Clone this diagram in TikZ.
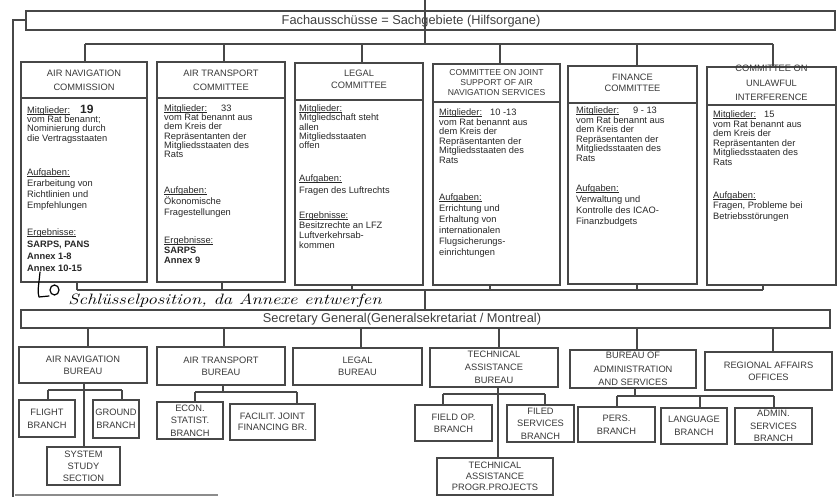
\documentclass[tikz,border=0pt]{standalone}
\usepackage{fontspec}
\usepackage{graphicx}
\newfontfamily\arial{Liberation Sans}
% underline drawn just below the baseline, as a typewriter-style rule
\newcommand\lbl[1]{\setbox0\hbox{#1}\rlap{\rule[-1.5pt]{\wd0}{0.55pt}}\box0}
\begin{document}
\begin{tikzpicture}[x=1pt,y=-1pt,
  ln/.style={draw=black!72,line width=1.1pt},
  frame/.style={draw=black!72,line width=1.1pt,inner sep=1pt,outer sep=0pt,anchor=north west},
  caps/.style={font=\arial\fontsize{9.3}{#1}\selectfont,align=center,text=black!78},
  caps/.default=12,
  smallcaps/.style={font=\arial\fontsize{8.6}{#1}\selectfont,align=center,text=black!78},
  body/.style={font=\arial\fontsize{9.3}{#1}\selectfont,align=left,anchor=north west,inner sep=0pt,text=black!85},
  title/.style={font=\arial\fontsize{12.8}{14}\selectfont,text=black!75},
  hand/.style={font=\rmfamily\itshape\fontsize{15}{15}\selectfont,text=black,inner sep=0pt},
  pen/.style={draw=black,line width=1.2pt,line cap=round,line join=round},
]
\useasboundingbox (0,0) rectangle (838,497);

% ---------- top level: committees ----------
\node[frame,minimum width=809pt,minimum height=19pt] (fach) at (26,11) {};
\node[title] (fachtxt) at (411,21) {Fachausschüsse = Sachgebiete (Hilfsorgane)};

\coordinate (topin) at (425,0);
\coordinate (lcorner) at (13,20);
\coordinate (lb) at (13,497);
\draw[ln] (fach.west |- lcorner) -- (lcorner) -- (lb);

\coordinate (tb1) at (85,44);
\coordinate (tb2) at (224,44);
\coordinate (tb3) at (362,44);
\coordinate (tb4) at (500,44);
\coordinate (tb5) at (637,44);
\coordinate (tb6) at (773,44);
\draw[ln] (topin) -- (topin |- tb1);
\draw[ln] (tb1) -- (tb6);

\node[frame,minimum width=126pt,minimum height=220pt] (c1) at (21,62) {};
\node[frame,minimum width=128pt,minimum height=220pt] (c2) at (157,62) {};
\node[frame,minimum width=128pt,minimum height=222pt] (c3) at (295,63) {};
\node[frame,minimum width=127pt,minimum height=221pt] (c4) at (433,64) {};
\node[frame,minimum width=129pt,minimum height=218pt] (c5) at (568,66) {};
\node[frame,minimum width=129pt,minimum height=218pt] (c6) at (707,67) {};

\foreach \i in {1,...,6} {\draw[ln] (tb\i) -- (tb\i |- c\i.north);}

% header dividers
\draw[ln] (c1.west |- 0,98) -- (c1.east |- 0,98);
\draw[ln] (c2.west |- 0,98) -- (c2.east |- 0,98);
\draw[ln] (c3.west |- 0,100) -- (c3.east |- 0,100);
\draw[ln] (c4.west |- 0,102) -- (c4.east |- 0,102);
\draw[ln] (c5.west |- 0,103) -- (c5.east |- 0,103);
\draw[ln] (c6.west |- 0,105) -- (c6.east |- 0,105);

% headers
\node[caps=14] (h1) at (84,80) {AIR NAVIGATION\\COMMISSION};
\node[caps=14] (h2) at (221,80) {AIR TRANSPORT\\COMMITTEE};
\node[caps=12] (h3) at (359,79) {LEGAL\\COMMITTEE};
\node[smallcaps=10] (h4) at (496.5,83) {COMMITTEE ON JOINT\\SUPPORT OF AIR\\NAVIGATION SERVICES};
\node[caps=11] (h5) at (632.5,82.5) {FINANCE\\COMMITTEE};
\node[caps=14.5] (h6) at (771.5,83) {COMMITTEE ON\\UNLAWFUL\\INTERFERENCE};

% bodies
\node[body=9.3] (c1a) at (27,104.7) {\lbl{Mitglieder:}\hspace{10pt}{\bfseries\fontsize{12}{9.3}\selectfont 19}\\vom Rat benannt;\\Nominierung durch\\die Vertragsstaaten};
\node[body=11] (c1b) at (27,168.5) {\lbl{Aufgaben:}\\Erarbeitung von\\Richtlinien und\\Empfehlungen};
\node[body=12] (c1c) at (27,228.5) {\lbl{Ergebnisse:}\\\textbf{SARPS, PANS}\\\textbf{Annex 1-8}\\\textbf{Annex 10-15}};

\node[body=9.2] (c2a) at (164,104.5) {\lbl{Mitglieder:}\hspace{14pt}33\\vom Rat benannt aus\\dem Kreis der\\Repräsentanten der\\Mitgliedsstaaten des\\Rats};
\node[body=11] (c2b) at (164,186.5) {\lbl{Aufgaben:}\\Ökonomische\\Fragestellungen};
\node[body=10] (c2c) at (164,236.5) {\lbl{Ergebnisse:}\\\textbf{SARPS}\\\textbf{Annex 9}};

\node[body=9.3] (c3a) at (299,104.5) {\lbl{Mitglieder:}\\Mitgliedschaft steht\\allen\\Mitgliedsstaaten\\offen};
\node[body=12] (c3b) at (299,174.5) {\lbl{Aufgaben:}\\Fragen des Luftrechts};
\node[body=10] (c3c) at (299,211.5) {\lbl{Ergebnisse:}\\Besitzrechte an LFZ\\Luftverkehrsab-\\kommen};

\node[body=9.6] (c4a) at (439,108.5) {\lbl{Mitglieder:}\hspace{8pt}10 -13\\vom Rat benannt aus\\dem Kreis der\\Repräsentanten der\\Mitgliedsstaaten des\\Rats};
\node[body=11] (c4b) at (439,193.5) {\lbl{Aufgaben:}\\Errichtung und\\Erhaltung von\\internationalen\\Flugsicherungs-\\einrichtungen};

\node[body=9.6] (c5a) at (576,106.5) {\lbl{Mitglieder:}\hspace{14pt}9 - 13\\vom Rat benannt aus\\dem Kreis der\\Repräsentanten der\\Mitgliedsstaaten des\\Rats};
\node[body=11] (c5b) at (576,184.5) {\lbl{Aufgaben:}\\Verwaltung und\\Kontrolle des ICAO-\\Finanzbudgets};

\node[body=9.6] (c6a) at (713,110.5) {\lbl{Mitglieder:}\hspace{8pt}15\\vom Rat benannt aus\\dem Kreis der\\Repräsentanten der\\Mitgliedsstaaten des\\Rats};
\node[body=10.5] (c6b) at (713,191.5) {\lbl{Aufgaben:}\\Fragen, Probleme bei\\Betriebsstörungen};

% ---------- link to the secretariat ----------
\coordinate (m1) at (77,290);
\coordinate (m2) at (222,290);
\coordinate (m3) at (352,290);
\coordinate (m4) at (490,290);
\coordinate (m5) at (637,290);
\coordinate (m6) at (763,290);
\coordinate (mtop) at (425,290);
\draw[ln] (m1) -- (m6);
\foreach \i in {1,...,6} {\draw[ln] (m\i) -- (m\i |- c\i.south);}

\node[frame,minimum width=809pt,minimum height=18pt] (sec) at (21,310) {};
\node[title] (sectxt) at (402,319) {Secretary General(Generalsekretariat / Montreal)};
\draw[ln] (mtop) -- (mtop |- sec.north);

% handwritten remark
\draw[pen] (40,272) .. controls (39,284) and (37,292) .. (39,297) -- (49,296);
\draw[pen] (54.5,290) ellipse (4.5 and 5);
\node[hand] (note) at (225,301) {\scalebox{1.25}[1]{Schlüsselposition, da Annexe entwerfen}};

% ---------- bureaus ----------
\node[frame,caps=12,minimum width=128pt,minimum height=36pt] (b1) at (19,347) {AIR NAVIGATION\\BUREAU};
\node[frame,caps=12,minimum width=128pt,minimum height=38pt] (b2) at (157,347) {AIR TRANSPORT\\BUREAU};
\node[frame,caps=12,minimum width=129pt,minimum height=37pt] (b3) at (293,348) {LEGAL\\BUREAU};
\node[frame,caps=13,minimum width=128pt,minimum height=39pt] (b4) at (430,348) {TECHNICAL\\ASSISTANCE\\BUREAU};
\node[frame,caps=13.5,minimum width=126pt,minimum height=38pt] (b5) at (570,350) {BUREAU OF\\ADMINISTRATION\\AND SERVICES};
\node[frame,caps=12,minimum width=127pt,minimum height=38pt] (b6) at (705,352) {REGIONAL AFFAIRS\\OFFICES};

\coordinate (sd1) at (88,0);
\coordinate (sd2) at (224,0);
\coordinate (sd3) at (361,0);
\coordinate (sd4) at (499,0);
\coordinate (sd5) at (637,0);
\coordinate (sd6) at (773,0);
\foreach \i in {1,...,6} {\draw[ln] (sd\i |- sec.south) -- (sd\i |- b\i.north);}

% ---------- branches ----------
\node[frame,caps=13,minimum width=56pt,minimum height=37pt] (f1) at (19,400) {FLIGHT\\BRANCH};
\node[frame,caps=13,minimum width=46pt,minimum height=38pt] (f2) at (93,400) {GROUND\\BRANCH};
\node[frame,caps=12,minimum width=73pt,minimum height=38pt] (f3) at (47,447) {SYSTEM\\STUDY\\SECTION};
\node[frame,caps=12.5,minimum width=66pt,minimum height=37pt] (f4) at (157,402) {ECON.\\STATIST.\\BRANCH};
\node[frame,caps=11,minimum width=85pt,minimum height=36pt] (f5) at (230,404) {FACILIT. JOINT\\FINANCING BR.};
\node[frame,caps=12,minimum width=77pt,minimum height=36pt] (f6) at (415,405) {FIELD OP.\\BRANCH};
\node[frame,caps=12.5,minimum width=67pt,minimum height=37pt] (f7) at (507,405) {FILED\\SERVICES\\BRANCH};
\node[frame,caps=11,minimum width=116pt,minimum height=37pt] (f8) at (437,458) {TECHNICAL\\ASSISTANCE\\PROGR.PROJECTS};
\node[frame,caps=13,minimum width=77pt,minimum height=35pt] (f9) at (578,407) {PERS.\\BRANCH};
\node[frame,caps=13,minimum width=66pt,minimum height=36pt] (f10) at (661,408) {LANGUAGE\\BRANCH};
\node[frame,caps=12.5,minimum width=77pt,minimum height=36pt] (f11) at (735,408) {ADMIN.\\SERVICES\\BRANCH};

% air navigation bureau
\coordinate (a0) at (84,390);
\coordinate (aL) at (48,390);
\coordinate (aR) at (122,390);
\draw[ln] (a0 |- b1.south) -- (a0 |- f3.north);
\draw[ln] (aL) -- (aR);
\draw[ln] (aL) -- (aL |- f1.north);
\draw[ln] (aR) -- (aR |- f2.north);

% air transport bureau
\coordinate (t0) at (223,392);
\coordinate (tL) at (195,392);
\coordinate (tR) at (297,392);
\draw[ln] (t0 |- b2.south) -- (t0);
\draw[ln] (tL) -- (tR);
\draw[ln] (tL) -- (tL |- f4.north);
\draw[ln] (tR) -- (tR |- f5.north);

% technical assistance bureau
\coordinate (e0) at (498,394);
\coordinate (eL) at (443,394);
\coordinate (eR) at (545,394);
\draw[ln] (e0 |- b4.south) -- (e0 |- f8.north);
\draw[ln] (eL) -- (eR);
\draw[ln] (eL) -- (eL |- f6.north);
\draw[ln] (eR) -- (eR |- f7.north);

% bureau of administration
\coordinate (d0) at (635,396);
\coordinate (dL) at (617,396);
\coordinate (dM) at (700,396);
\coordinate (dR) at (774,396);
\draw[ln] (d0 |- b5.south) -- (d0);
\draw[ln] (dL) -- (dR);
\draw[ln] (dL) -- (dL |- f9.north);
\draw[ln] (dM) -- (dM |- f10.north);
\draw[ln] (dR) -- (dR |- f11.north);

% edge of the next box below
\coordinate (cutL) at (15,495);
\coordinate (cutR) at (218,495);
\draw[draw=black!45,line width=1.3pt] (cutL) -- (cutR);
\end{tikzpicture}
\end{document}
